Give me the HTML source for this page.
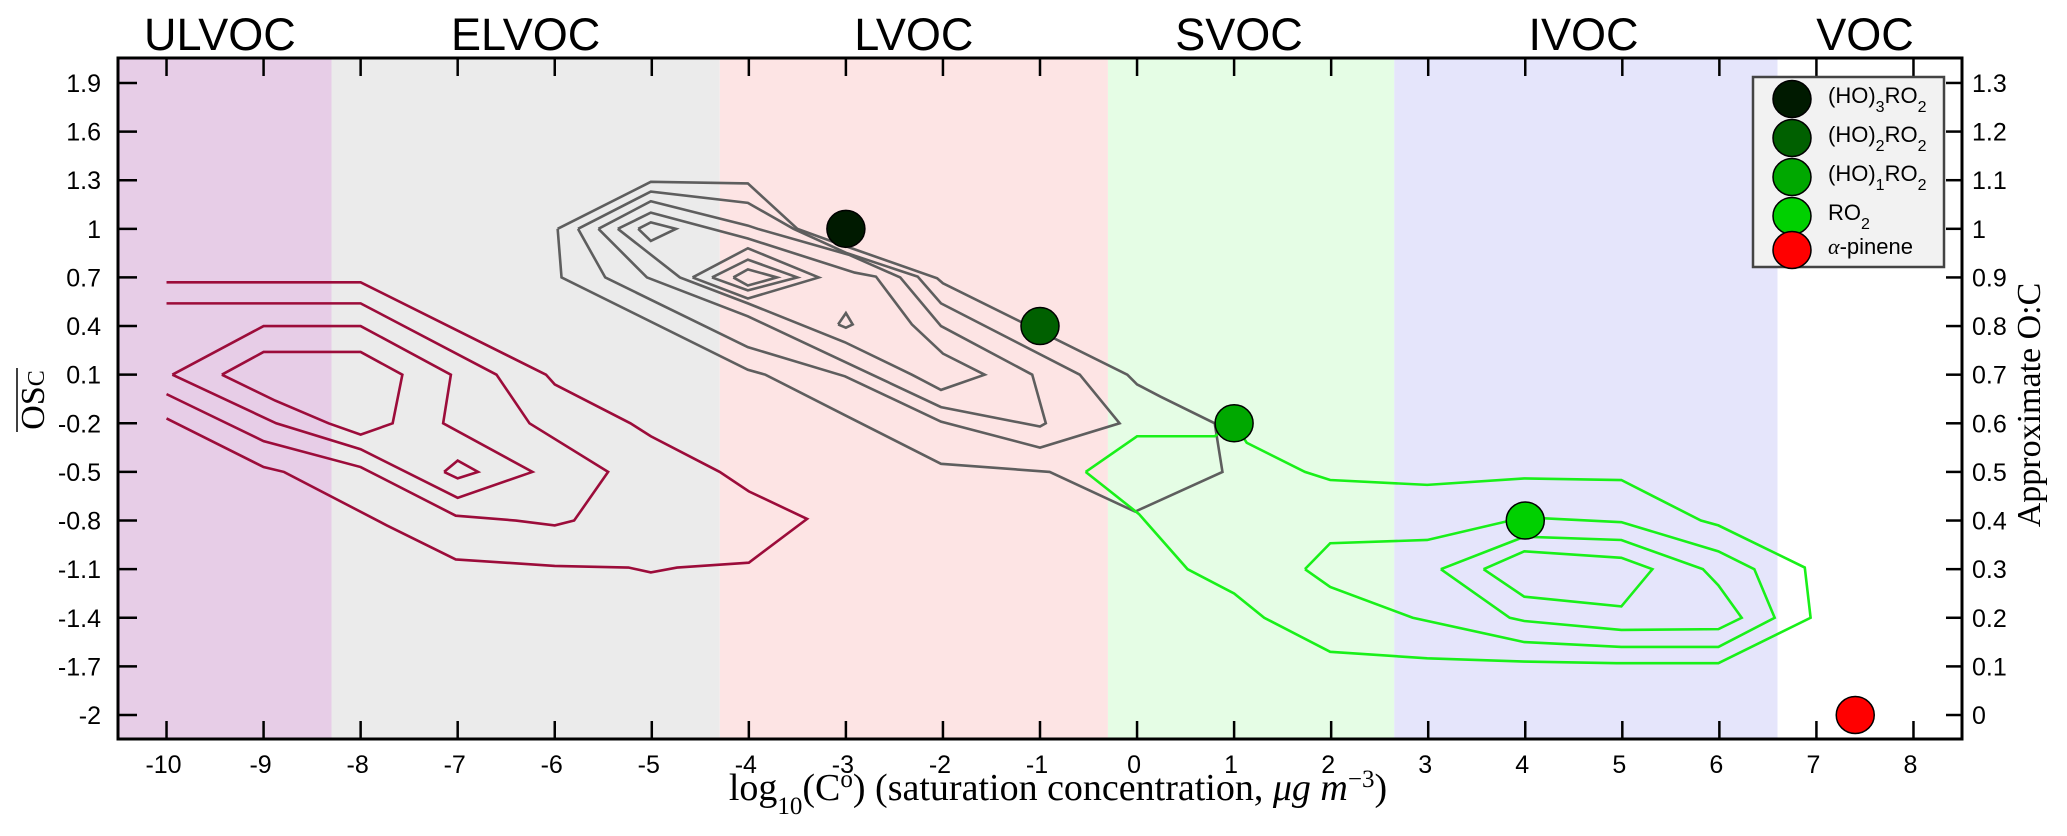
<!DOCTYPE html>
<html><head><meta charset="utf-8"><style>
html,body{margin:0;padding:0;background:#fff;}
svg{display:block;}
text{font-family:"Liberation Sans",Arial,sans-serif;}
.serif{font-family:"Liberation Serif","DejaVu Serif",serif;}
</style></head><body>
<svg id="chart" width="2067" height="836" viewBox="0 0 2067 836" xmlns="http://www.w3.org/2000/svg"></svg>
<script>
// ---- data ----
const xTicks=[-10,-9,-8,-7,-6,-5,-4,-3,-2,-1,0,1,2,3,4,5,6,7,8];
const yTicks=[1.9,1.6,1.3,1,0.7,0.4,0.1,-0.2,-0.5,-0.8,-1.1,-1.4,-1.7,-2];
const yTickLabels=["1.9","1.6","1.3","1","0.7","0.4","0.1","-0.2","-0.5","-0.8","-1.1","-1.4","-1.7","-2"];
const ocTicks=[0,0.1,0.2,0.3,0.4,0.5,0.6,0.7,0.8,0.9,1,1.1,1.2,1.3];
const ocTickLabels=["0","0.1","0.2","0.3","0.4","0.5","0.6","0.7","0.8","0.9","1","1.1","1.2","1.3"];
const regionNames=["ULVOC","ELVOC","LVOC","SVOC","IVOC","VOC"];
const regionEdges=[-10.5,-8.3,-4.3,-0.3,2.65,6.6,8.5];
const regionColors=["#e7cde7","#ebebeb","#fde4e4","#e5fde5","#e5e5fb","#ffffff"];
const regionLabelX=[-9.45,-6.3,-2.3,1.05,4.6,7.5];
const pointNames=["(HO)3RO2","(HO)2RO2","(HO)1RO2","RO2","alpha-pinene"];
const pointX=[-3,-1,1,4,7.4];
const pointY=[1.0,0.4,-0.2,-0.8,-2.0];
const pointColors=["#001a00","#006000","#00a800","#00d000","#ff0000"];
const maroonContours=[
 [[-10,0.67],[-8,0.67],[-6.09,0.1],[-6,0.04],[-5.22,-0.2],[-5.01,-0.28],[-4.3,-0.5],[-4,-0.62],[-3.4,-0.79],[-4,-1.06],[-4.74,-1.09],[-5.01,-1.12],[-5.24,-1.09],[-6,-1.08],[-7.02,-1.04],[-7.73,-0.83],[-8.79,-0.5],[-9,-0.47],[-10,-0.17]],
 [[-10,0.54],[-8,0.54],[-6.6,0.1],[-6.26,-0.2],[-5.45,-0.5],[-5.8,-0.8],[-6,-0.83],[-6.4,-0.8],[-7.02,-0.77],[-8,-0.47],[-9,-0.31],[-10,-0.02]],
 [[-9.94,0.1],[-9,0.4],[-8,0.4],[-7.07,0.1],[-7.15,-0.2],[-6.23,-0.5],[-7,-0.66],[-8,-0.36],[-8.87,-0.2],[-9.94,0.1]],
 [[-9.43,0.1],[-9,0.24],[-8,0.24],[-7.57,0.1],[-7.67,-0.2],[-8,-0.27],[-8.33,-0.2],[-8.88,-0.06],[-9.43,0.1]],
 [[-7.14,-0.5],[-7,-0.43],[-6.79,-0.5],[-7,-0.54],[-7.14,-0.5]]
];
const greyContours=[
 [[-5.97,1.0],[-5.93,0.7],[-4.01,0.13],[-3.83,0.1],[-3.01,-0.15],[-2.02,-0.45],[-0.9,-0.5],[-0.02,-0.745],[0.88,-0.5],[0.8,-0.2],[0.24,-0.035],[0,0.04],[-0.1,0.1],[-2,0.664],[-2.06,0.695],[-3.18,0.93],[-3.5,1.0],[-4.01,1.28],[-5.01,1.29],[-5.97,1.0]],
 [[-5.76,1.0],[-5.01,1.23],[-4.01,1.16],[-3.54,1.0],[-2.99,0.85],[-2.26,0.705],[-2.02,0.54],[-0.59,0.1],[-0.18,-0.2],[-1.0,-0.35],[-2.02,-0.19],[-3.01,0.09],[-4.01,0.27],[-5.48,0.7],[-5.76,1.0]],
 [[-5.55,1.0],[-5.01,1.17],[-4.01,1.02],[-3.91,1.0],[-2.97,0.84],[-2.44,0.7],[-2.02,0.4],[-1.08,0.1],[-0.94,-0.2],[-1.0,-0.22],[-2.02,-0.1],[-2.73,0.1],[-4.01,0.46],[-5.05,0.7],[-5.55,1.0]],
 [[-5.35,1.0],[-5.01,1.1],[-4.01,0.94],[-2.91,0.73],[-2.69,0.705],[-2.32,0.41],[-2.0,0.23],[-1.57,0.1],[-2.02,0.006],[-2.32,0.1],[-3.01,0.3],[-4.01,0.54],[-4.71,0.7],[-5.35,1.0]],
 [[-4.58,0.7],[-4.01,0.88],[-3.28,0.7],[-4.01,0.57],[-4.58,0.7]],
 [[-4.38,0.7],[-4.01,0.81],[-3.5,0.7],[-4.01,0.62],[-4.38,0.7]],
 [[-4.16,0.7],[-4.01,0.75],[-3.71,0.7],[-4.01,0.65],[-4.16,0.7]],
 [[-5.14,1.0],[-5.01,1.04],[-4.75,1.0],[-5.01,0.925],[-5.14,1.0]],
 [[-3.08,0.41],[-3.0,0.48],[-2.93,0.41],[-3.0,0.39],[-3.08,0.41]]
];
const greenContours=[
 [[-0.53,-0.5],[0,-0.28],[0.8,-0.28],[1.0,-0.2],[1.13,-0.32],[1.73,-0.5],[1.99,-0.55],[2.99,-0.58],[3.99,-0.54],[4.99,-0.55],[5.81,-0.8],[5.99,-0.83],[6.88,-1.09],[6.94,-1.4],[5.99,-1.68],[4.94,-1.68],[3.99,-1.67],[2.99,-1.65],[1.99,-1.61],[1.31,-1.4],[1.0,-1.25],[0.52,-1.1],[0.02,-0.76],[-0.53,-0.5]],
 [[1.73,-1.1],[1.99,-0.94],[2.99,-0.92],[3.99,-0.78],[4.99,-0.81],[5.99,-0.99],[6.36,-1.1],[6.57,-1.4],[5.99,-1.58],[4.99,-1.58],[3.99,-1.55],[2.84,-1.4],[1.99,-1.21],[1.73,-1.1]],
 [[3.13,-1.1],[3.99,-0.9],[4.99,-0.92],[5.83,-1.1],[5.99,-1.2],[6.23,-1.4],[5.99,-1.47],[4.99,-1.475],[3.99,-1.42],[3.84,-1.4],[3.13,-1.1]],
 [[3.57,-1.1],[3.99,-0.99],[4.99,-1.03],[5.31,-1.1],[4.99,-1.33],[3.99,-1.27],[3.57,-1.1]]
];
// ---- geometry ----
const L=118,R=1962,T=58,B=739, XMIN=-10.5,XMAX=8.5, YMIN=-2.148,YMAX=2.054;
const sx=v=>L+(v-XMIN)/(XMAX-XMIN)*(R-L);
const sy=v=>T+(YMAX-v)/(YMAX-YMIN)*(B-T);
const soc=v=>sy(3*v-2);
const svg=document.getElementById('chart');
const NS="http://www.w3.org/2000/svg";
function mk(tag,attrs,parent){const e=document.createElementNS(NS,tag);for(const k in attrs)e.setAttribute(k,attrs[k]);(parent||svg).appendChild(e);return e;}

regionNames.forEach((n,i)=>{
  const r=mk('rect',{x:sx(regionEdges[i]),y:T,width:sx(regionEdges[i+1])-sx(regionEdges[i]),height:B-T,fill:regionColors[i]});
  
  
  const t=mk('text',{x:sx(regionLabelX[i]),y:50,'text-anchor':'middle','font-size':45,fill:'#000'});
  t.textContent=n;
  
  
});
function drawContours(set,color,name){
  set.forEach((c,i)=>{
    const p=mk('polyline',{points:c.map(q=>sx(q[0])+','+sy(q[1])).join(' '),fill:'none',stroke:color,'stroke-width':2.6,'stroke-linejoin':'miter'});
    
    
  });
}
drawContours(maroonContours,'#9c0c3a','maroon');
drawContours(greyContours,'#5e5e5e','grey');
drawContours(greenContours,'#19f019','green');
pointX.forEach((x,i)=>{
  const c=mk('ellipse',{cx:sx(x),cy:sy(pointY[i]),rx:19,ry:18.5,fill:pointColors[i],stroke:'#000','stroke-width':1.5});
  
  
});
const fr=mk('rect',{x:L,y:T,width:R-L,height:B-T,fill:'none',stroke:'#000','stroke-width':3});


xTicks.forEach(v=>{
  const x=sx(v);
  mk('line',{x1:x,y1:B,x2:x,y2:B-18,stroke:'#000','stroke-width':2.5});
  mk('line',{x1:x,y1:T,x2:x,y2:T+18,stroke:'#000','stroke-width':2.5});
  const t=mk('text',{x:x-3,y:773,'text-anchor':'middle','font-size':25});
  t.textContent=String(v);
  
  
});
yTicks.forEach((v,i)=>{
  const y=sy(v);
  mk('line',{x1:L,y1:y,x2:L+19,y2:y,stroke:'#000','stroke-width':2.5});
  const t=mk('text',{x:101,y:y+9,'text-anchor':'end','font-size':25});
  t.textContent=yTickLabels[i];
  
  
});
ocTicks.forEach((v,i)=>{
  const y=soc(v);
  mk('line',{x1:R,y1:y,x2:R-16,y2:y,stroke:'#000','stroke-width':2.5});
  const t=mk('text',{x:1972,y:y+9,'font-size':25});
  t.textContent=ocTickLabels[i];
  
  
});
const lg=mk('g',{});


mk('rect',{x:1753,y:77,width:191,height:190,fill:'#f2f2f2',stroke:'#444','stroke-width':2.5},lg);
const legY=[99,138,177,216,250];
const legHTML=['(HO)<tspan baseline-shift="sub" font-size="16">3</tspan>RO<tspan baseline-shift="sub" font-size="16">2</tspan>',
 '(HO)<tspan baseline-shift="sub" font-size="16">2</tspan>RO<tspan baseline-shift="sub" font-size="16">2</tspan>',
 '(HO)<tspan baseline-shift="sub" font-size="16">1</tspan>RO<tspan baseline-shift="sub" font-size="16">2</tspan>',
 'RO<tspan baseline-shift="sub" font-size="16">2</tspan>',
 '<tspan font-family="Liberation Serif,serif" font-style="italic">α</tspan>-pinene'];
legY.forEach((y,i)=>{
  const c=mk('ellipse',{cx:1792,cy:y,rx:19,ry:18.5,fill:pointColors[i],stroke:'#000','stroke-width':1.5},lg);
  
  
  const t=mk('text',{x:1828,y:y+4,'font-size':22},lg);
  t.innerHTML=legHTML[i];
  
  
});
</script>
<svg width="2067" height="836" style="position:absolute;left:0;top:0;pointer-events:none" xmlns="http://www.w3.org/2000/svg">
<text class="serif" x="1058" y="800" text-anchor="middle" font-size="38">log<tspan baseline-shift="sub" font-size="25">10</tspan>(C<tspan baseline-shift="super" font-size="25">o</tspan>) (saturation concentration, <tspan font-style="italic">μg m</tspan><tspan baseline-shift="super" font-size="25">−3</tspan>)</text>
<g transform="translate(44,400) rotate(-90)">
<text class="serif" x="0" y="0" text-anchor="middle" font-size="34">OS<tspan font-size="24">C</tspan></text>
<line x1="-32" y1="-27" x2="32" y2="-27" stroke="#000" stroke-width="1.5"/>
</g>
<text class="serif" transform="translate(2040,405) rotate(-90)" text-anchor="middle" font-size="34">Approximate O:C</text>
</svg>
</body></html>
